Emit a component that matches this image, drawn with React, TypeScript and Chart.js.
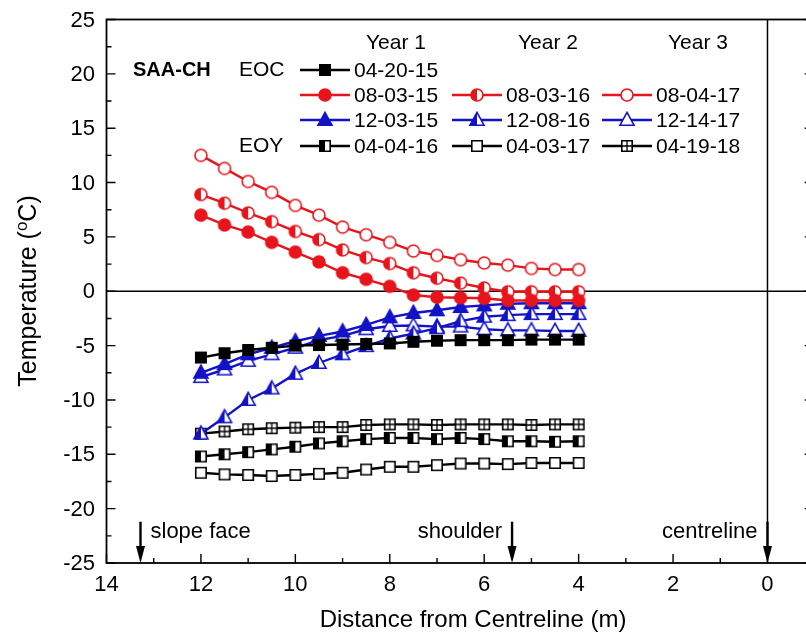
import React, { useEffect, useRef } from "react";
import { Chart, registerables } from "chart.js";

Chart.register(...registerables);

// ---------- data ----------
const distances = [12, 11.5, 11, 10.5, 10, 9.5, 9, 8.5, 8, 7.5, 7, 6.5, 6, 5.5, 5, 4.5, 4];

const eoc_04_20_15 = [-6.1, -5.7, -5.4, -5.2, -5.0, -4.95, -4.9, -4.85, -4.8, -4.65, -4.55, -4.5, -4.5, -4.5, -4.45, -4.45, -4.45];
const eoc_08_03_15 = [7.0, 6.1, 5.45, 4.5, 3.6, 2.7, 1.7, 1.1, 0.45, -0.35, -0.55, -0.6, -0.65, -0.85, -0.85, -0.85, -0.85];
const eoc_12_03_15 = [-7.5, -6.7, -5.8, -5.2, -4.6, -4.1, -3.7, -3.1, -2.4, -2.0, -1.75, -1.45, -1.3, -1.15, -1.1, -1.1, -1.1];
const eoy_04_04_16 = [-15.2, -15.0, -14.8, -14.55, -14.3, -14.0, -13.8, -13.6, -13.5, -13.5, -13.6, -13.5, -13.6, -13.8, -13.8, -13.85, -13.8];
const eoc_08_03_16 = [8.9, 8.1, 7.2, 6.4, 5.5, 4.75, 3.8, 3.1, 2.55, 1.7, 1.2, 0.75, 0.3, -0.05, -0.05, -0.05, -0.05];
const eoc_12_08_16 = [-13.1, -11.6, -10.0, -8.95, -7.6, -6.6, -5.8, -5.05, -4.35, -3.9, -3.4, -2.75, -2.35, -2.2, -2.1, -2.1, -2.1];
const eoy_04_03_17 = [-16.7, -16.85, -16.9, -17.0, -16.9, -16.8, -16.7, -16.4, -16.15, -16.15, -16.0, -15.85, -15.85, -15.9, -15.8, -15.8, -15.8];
const eoc_08_04_17 = [12.5, 11.3, 10.1, 9.1, 7.9, 7.0, 5.9, 5.2, 4.5, 3.7, 3.3, 2.9, 2.6, 2.4, 2.1, 2.0, 2.0];
const eoc_12_14_17 = [-7.9, -7.2, -6.4, -5.8, -5.2, -4.5, -4.1, -3.5, -3.2, -3.15, -3.25, -3.25, -3.5, -3.6, -3.6, -3.65, -3.65];
const eoy_04_19_18 = [-13.1, -12.9, -12.7, -12.6, -12.55, -12.5, -12.5, -12.3, -12.25, -12.25, -12.3, -12.25, -12.25, -12.25, -12.3, -12.25, -12.25];

const seriesLabels = ["04-20-15", "08-03-15", "12-03-15", "04-04-16", "08-03-16", "12-08-16", "04-03-17", "08-04-17", "12-14-17", "04-19-18"];
const yearHeaders = ["Year 1", "Year 2", "Year 3"];
const xTickValues = [14, 12, 10, 8, 6, 4, 2, 0];
const yTickValues = [25, 20, 15, 10, 5, 0, -5, -10, -15, -20, -25];
const xMinorValues = [13, 11, 9, 7, 5, 3, 1];
const yMinorValues = [22.5, 17.5, 12.5, 7.5, 2.5, -2.5, -7.5, -12.5, -17.5, -22.5];
const xRange = [-1, 14];
const yRange = [-25, 25];
const markerLocations = [
  { label: "slope face", x: 13.28 },
  { label: "shoulder", x: 5.41 },
  { label: "centreline", x: 0 },
];
const arrowTop = -21.2;

// ---------- styles ----------
const RED = "#e8141c";
const BLUE = "#1212c8";
const BLACK = "#000000";
const FONT = "Arial, 'Liberation Sans', Helvetica, sans-serif";

type Kind = "circle" | "triangle" | "square";
type Fill = "full" | "half" | "open" | "cross";

interface SeriesDef {
  label: string;
  values: number[];
  kind: Kind;
  fill: Fill;
  color: string;
}

const series: SeriesDef[] = [
  { label: seriesLabels[0], values: eoc_04_20_15, kind: "square", fill: "full", color: BLACK },
  { label: seriesLabels[1], values: eoc_08_03_15, kind: "circle", fill: "full", color: RED },
  { label: seriesLabels[2], values: eoc_12_03_15, kind: "triangle", fill: "full", color: BLUE },
  { label: seriesLabels[3], values: eoy_04_04_16, kind: "square", fill: "half", color: BLACK },
  { label: seriesLabels[4], values: eoc_08_03_16, kind: "circle", fill: "half", color: RED },
  { label: seriesLabels[5], values: eoc_12_08_16, kind: "triangle", fill: "half", color: BLUE },
  { label: seriesLabels[6], values: eoy_04_03_17, kind: "square", fill: "open", color: BLACK },
  { label: seriesLabels[7], values: eoc_08_04_17, kind: "circle", fill: "open", color: RED },
  { label: seriesLabels[8], values: eoc_12_14_17, kind: "triangle", fill: "open", color: BLUE },
  { label: seriesLabels[9], values: eoy_04_19_18, kind: "square", fill: "cross", color: BLACK },
];

function drawMarker(ctx: CanvasRenderingContext2D, kind: Kind, fill: Fill, color: string, cx: number, cy: number) {
  ctx.save();
  ctx.lineWidth = 1.6;
  ctx.strokeStyle = color;
  const path = () => {
    ctx.beginPath();
    if (kind === "circle") ctx.arc(cx, cy, 6, 0, Math.PI * 2);
    else if (kind === "triangle") {
      ctx.moveTo(cx, cy - 7.6);
      ctx.lineTo(cx + 7, cy + 5.2);
      ctx.lineTo(cx - 7, cy + 5.2);
      ctx.closePath();
    } else ctx.rect(cx - 5.2, cy - 5.2, 10.4, 10.4);
  };
  path();
  ctx.fillStyle = fill === "full" ? color : "#ffffff";
  ctx.fill();
  if (fill === "half") {
    ctx.save();
    path();
    ctx.clip();
    ctx.fillStyle = color;
    ctx.fillRect(cx - 10, cy - 10, 10, 20);
    ctx.restore();
  }
  if (fill === "cross") {
    ctx.beginPath();
    ctx.moveTo(cx, cy - 5.2);
    ctx.lineTo(cx, cy + 5.2);
    ctx.moveTo(cx - 5.2, cy);
    ctx.lineTo(cx + 5.2, cy);
    ctx.lineWidth = 1.3;
    ctx.stroke();
    ctx.lineWidth = 1.6;
  }
  path();
  ctx.stroke();
  ctx.restore();
}

function makeMarkerCanvas(s: SeriesDef): HTMLCanvasElement {
  const c = document.createElement("canvas");
  c.width = 20;
  c.height = 20;
  const cctx = c.getContext("2d")!;
  drawMarker(cctx, s.kind, s.fill, s.color, 10, 10);
  return c;
}

const decorPlugin = {
  id: "decor",
  beforeDatasetsDraw(chart: any) {
    const { ctx, chartArea: a, scales } = chart;
    const x = scales.x;
    const y = scales.y;
    ctx.save();
    ctx.strokeStyle = "#000";
    ctx.lineWidth = 1.5;
    const y0 = y.getPixelForValue(0);
    ctx.beginPath();
    ctx.moveTo(a.left, y0);
    ctx.lineTo(a.right, y0);
    ctx.stroke();
    const x0 = x.getPixelForValue(0);
    ctx.beginPath();
    ctx.moveTo(x0, a.top);
    ctx.lineTo(x0, a.bottom);
    ctx.stroke();
    ctx.restore();
  },
  afterDraw(chart: any) {
    const { ctx, chartArea: a, scales } = chart;
    const x = scales.x;
    const y = scales.y;
    ctx.save();
    // frame
    ctx.strokeStyle = "#000";
    ctx.lineWidth = 1.8;
    ctx.strokeRect(a.left, a.top, a.right - a.left, a.bottom - a.top);
    // ticks (inward)
    ctx.lineWidth = 1.4;
    ctx.beginPath();
    for (const v of yTickValues) {
      const py = y.getPixelForValue(v);
      ctx.moveTo(a.left, py);
      ctx.lineTo(a.left + 9, py);
      ctx.moveTo(a.right, py);
      ctx.lineTo(a.right - 10, py);
    }
    for (const v of yMinorValues) {
      const py = y.getPixelForValue(v);
      ctx.moveTo(a.left, py);
      ctx.lineTo(a.left + 5, py);
      ctx.moveTo(a.right, py);
      ctx.lineTo(a.right - 5, py);
    }
    for (const v of xTickValues) {
      const px = x.getPixelForValue(v);
      ctx.moveTo(px, a.bottom);
      ctx.lineTo(px, a.bottom - 9);
    }
    for (const v of xMinorValues) {
      const px = x.getPixelForValue(v);
      ctx.moveTo(px, a.bottom);
      ctx.lineTo(px, a.bottom - 5);
    }
    ctx.stroke();

    // tick labels
    ctx.fillStyle = "#000";
    ctx.font = `22px ${FONT}`;
    ctx.textAlign = "right";
    ctx.textBaseline = "middle";
    for (const v of yTickValues) {
      ctx.fillText(String(v), 95, y.getPixelForValue(v) + 1);
    }
    ctx.textAlign = "center";
    for (const v of xTickValues) {
      ctx.fillText(String(v), x.getPixelForValue(v), 585);
    }

    // axis titles
    ctx.font = `24px ${FONT}`;
    ctx.fillText("Distance from Centreline (m)", 473, 620);
    ctx.save();
    ctx.translate(29, 291);
    ctx.rotate(-Math.PI / 2);
    ctx.textAlign = "left";
    const p1 = "Temperature (";
    const p2 = "o";
    const p3 = "C)";
    ctx.font = `25px ${FONT}`;
    const w1 = ctx.measureText(p1).width;
    const w3 = ctx.measureText(p3).width;
    ctx.font = `17px ${FONT}`;
    const w2 = ctx.measureText(p2).width;
    const total = w1 + w2 + w3;
    let sx = -total / 2;
    ctx.font = `25px ${FONT}`;
    ctx.fillText(p1, sx, 0);
    sx += w1;
    ctx.font = `17px ${FONT}`;
    ctx.fillText(p2, sx, -7);
    sx += w2;
    ctx.font = `25px ${FONT}`;
    ctx.fillText(p3, sx, 0);
    ctx.restore();

    // location arrows
    ctx.font = `22px ${FONT}`;
    ctx.textBaseline = "middle";
    for (const m of markerLocations) {
      const px = x.getPixelForValue(m.x);
      const pt = y.getPixelForValue(arrowTop);
      const pb = y.getPixelForValue(yRange[0]);
      ctx.lineWidth = 2.4;
      ctx.beginPath();
      ctx.moveTo(px, pt);
      ctx.lineTo(px, pb - 12);
      ctx.stroke();
      ctx.beginPath();
      ctx.moveTo(px - 4.5, pb - 17);
      ctx.lineTo(px + 4.5, pb - 17);
      ctx.lineTo(px, pb);
      ctx.closePath();
      ctx.fill();
      if (m.x > 10) {
        ctx.textAlign = "left";
        ctx.fillText(m.label, px + 10, 532);
      } else {
        ctx.textAlign = "right";
        ctx.fillText(m.label, px - 10, 532);
      }
    }

    // legend
    ctx.textBaseline = "middle";
    ctx.textAlign = "center";
    ctx.font = `21px ${FONT}`;
    const headerX = [396, 548, 698];
    yearHeaders.forEach((h, i) => ctx.fillText(h, headerX[i], 43));
    ctx.textAlign = "left";
    ctx.font = `bold 20px ${FONT}`;
    ctx.fillText("SAA-CH", 133, 70);
    ctx.font = `21px ${FONT}`;
    ctx.fillText("EOC", 239, 70);
    ctx.fillText("EOY", 239, 146);
    const rowY = [70, 95, 120, 146];
    const cols = [
      { s: 300, e: 350, t: 354, items: [0, 1, 2, 3], rows: [0, 1, 2, 3] },
      { s: 452, e: 502, t: 506, items: [4, 5, 6], rows: [1, 2, 3] },
      { s: 602, e: 652, t: 656, items: [7, 8, 9], rows: [1, 2, 3] },
    ];
    for (const c of cols) {
      c.items.forEach((si, k) => {
        const sd = series[si];
        const ry = rowY[c.rows[k]];
        ctx.strokeStyle = sd.color;
        ctx.lineWidth = 2.4;
        ctx.beginPath();
        ctx.moveTo(c.s, ry);
        ctx.lineTo(c.e, ry);
        ctx.stroke();
        drawMarker(ctx, sd.kind, sd.fill, sd.color, (c.s + c.e) / 2, ry);
        ctx.fillStyle = "#000";
        ctx.fillText(sd.label, c.t, ry + 1);
      });
    }
    ctx.restore();
  },
};

export default function App() {
  const ref = useRef<HTMLCanvasElement | null>(null);
  useEffect(() => {
    if (!ref.current) return;
    const datasets = series.map((s) => {
      const img = makeMarkerCanvas(s);
      return {
        label: s.label,
        data: distances.map((d, i) => ({ x: d, y: s.values[i] })),
        borderColor: s.color,
        backgroundColor: s.color,
        borderWidth: 2.4,
        tension: 0,
        pointStyle: img as any,
        pointRadius: 6,
        pointHoverRadius: 6,
      };
    });
    const chart = new Chart(ref.current, {
      type: "line",
      data: { datasets },
      options: {
        animation: false,
        responsive: false,
        events: [],
        layout: { padding: { left: 106.5, right: 830 - 814.7, top: 19.5, bottom: 641 - 563 } },
        plugins: { legend: { display: false }, tooltip: { enabled: false } },
        scales: {
          x: { type: "linear", reverse: true, min: xRange[0], max: xRange[1], display: false },
          y: { type: "linear", min: yRange[0], max: yRange[1], display: false },
        },
      },
      plugins: [decorPlugin],
    });
    return () => chart.destroy();
  }, []);
  return (
    <div style={{ position: "fixed", left: 0, top: 0, width: 806, height: 641, overflow: "hidden", background: "#fff" }}>
      <canvas ref={ref} width={830} height={641} style={{ display: "block" }} />
    </div>
  );
}
